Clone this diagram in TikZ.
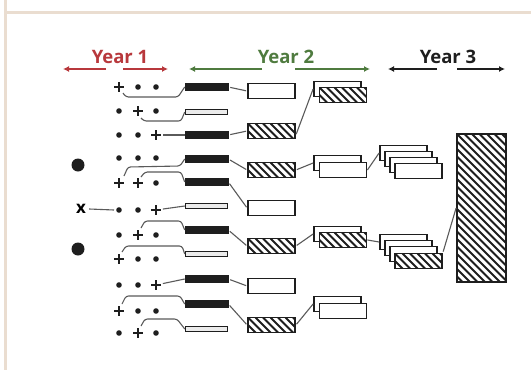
\documentclass[tikz,border=0pt]{standalone}
\usepackage{fontspec}
\newfontfamily\hdrfont{Open Sans}
\usetikzlibrary{arrows.meta,shapes.misc,calc}
\definecolor{yrred}{HTML}{B8383C}
\definecolor{yrgreen}{HTML}{4F7B3F}
\definecolor{ink}{HTML}{1E1E1E}
\definecolor{wirecol}{HTML}{5A5A5A}
\definecolor{framecol}{HTML}{EADDD0}
\begin{document}
\begin{tikzpicture}[x=1pt,y=-1pt,
  yeartext/.style={font=\hdrfont\bfseries\fontsize{18.5}{20}\selectfont, inner sep=0pt},
  yarrow/.style={line width=2pt, -{Latex[length=6pt,width=6pt]}},
  wire/.style={draw=wirecol, line width=1.1pt, rounded corners=2.5pt},
  sdot/.style={circle, fill=ink, inner sep=0pt, minimum size=5.6pt},
  splus/.style={cross out, draw=ink, line width=1.9pt, rotate=45, inner sep=0pt, minimum size=5pt},
  bigdot/.style={circle, fill=ink, inner sep=0pt, minimum size=13pt},
  bbar/.style={rectangle, draw=ink, fill=ink, line width=0.6pt, inner sep=0pt, minimum width=43pt, minimum height=7pt},
  wbar/.style={rectangle, draw=ink, fill=black!8, line width=1.5pt, inner sep=0pt, minimum width=42pt, minimum height=5pt},
  hatch/.style={path picture={
      \foreach \k in {-25,...,10}{
        \draw[line width=2pt, ink] ([xshift=\k*7.5pt]path picture bounding box.north west) -- ++(200pt,-200pt);
      }}},
  box/.style={rectangle, draw=ink, line width=1.8pt, fill=white, inner sep=0pt, minimum width=47pt, minimum height=15pt},
  hbox/.style={box, hatch}
]
\useasboundingbox (0,0) rectangle (531,370);
\fill[white] (0,0) rectangle (531,370);

% page frame
\draw[framecol, line width=3pt] (5.5,0) -- (5.5,370);
\draw[framecol, line width=2.5pt] (5.5,12.5) -- (531,12.5);

% year headings with their spans
\node[yeartext, text=yrred]   (y1) at (120,57) {Year 1};
\node[yeartext, text=yrgreen] (y2) at (286,57) {Year 2};
\node[yeartext, text=ink]     (y3) at (448,57) {Year 3};
\coordinate (y1a) at (106,69); \coordinate (y1b) at (63,69);
\coordinate (y1c) at (123,69); \coordinate (y1d) at (168,69);
\coordinate (y2a) at (262,69); \coordinate (y2b) at (189,69);
\coordinate (y2c) at (295,69); \coordinate (y2d) at (370,69);
\coordinate (y3a) at (437,69); \coordinate (y3b) at (388,69);
\coordinate (y3c) at (457,69); \coordinate (y3d) at (505,69);
\draw[yarrow, yrred] (y1a) -- (y1b);
\draw[yarrow, yrred] (y1c) -- (y1d);
\draw[yarrow, yrgreen] (y2a) -- (y2b);
\draw[yarrow, yrgreen] (y2c) -- (y2d);
\draw[yarrow, ink] (y3a) -- (y3b);
\draw[yarrow, ink] (y3c) -- (y3d);

% parents
\node[bigdot] (p1) at (78,165) {};
\node[bigdot] (p2) at (78,249) {};
\node[font=\hdrfont\bfseries\fontsize{17}{18}\selectfont, inner sep=0pt] (xm) at (81,208.5) {x};

% marker rows
\foreach \r/\y/\pa/\pb/\pc in {
  1/87/splus/sdot/sdot, 2/111/sdot/splus/sdot, 3/135/sdot/sdot/splus,
  4/158/sdot/sdot/sdot, 5/183/splus/splus/sdot, 6/210/sdot/sdot/splus,
  7/235/sdot/splus/sdot, 8/259/splus/sdot/sdot, 9/285/sdot/sdot/splus,
  10/311/splus/sdot/sdot, 11/333/sdot/splus/sdot}{
  \node[\pa] (r\r a) at (119,\y) {};
  \node[\pb] (r\r b) at (138,\y) {};
  \node[\pc] (r\r c) at (156,\y) {};
}

% year-1 bars
\foreach \r/\y/\t in {1/87/bbar, 2/112/wbar, 3/135/bbar, 4/159/bbar, 5/182/bbar,
  6/206/wbar, 7/230/bbar, 8/254/wbar, 9/279/bbar, 10/304/bbar, 11/329/wbar}{
  \node[\t] (bar\r) at (206.5,\y) {};
}

% markers to bars
\draw[wire] (xm.east) ++(3,0.5) coordinate (xs) (xs) -- ([xshift=-5pt]r6a.center);
\draw[wire] ([shift={(4,6)}]r1a.center) -- ++(3,4) -- (178,97) -- (bar1.west);
\draw[wire] ([shift={(3,7)}]r2b.center) -- ++(3,3) -- (181,121) -- (bar2.west);
\draw[wire, shorten <=7pt] (r3c.center) -- (bar3.west);
\draw[wire] ([shift={(5,-7)}]r5a.center) -- ++(4,-9) -- (180,166) -- (bar4.west);
\draw[wire] ([shift={(3,-6)}]r5b.center) -- ++(4,-5) -- (181,172) -- (bar5.west);
\draw[wire, shorten <=7pt] (r6c.center) -- (bar6.west);
\draw[wire] ([shift={(3,-7)}]r7b.center) -- ++(4,-7) -- (181,221) -- (bar7.west);
\draw[wire] ([shift={(3,-7)}]r8a.center) -- ++(4,-6) -- (182,246) -- (bar8.west);
\draw[wire, shorten <=7pt] (r9c.center) -- (bar9.west);
\draw[wire] ([shift={(3,-7)}]r10a.center) -- ++(4,-8) -- (180,296) -- (bar10.west);
\draw[wire] ([shift={(3,-7)}]r11b.center) -- ++(4,-7) -- (177,319) -- (bar11.west);

% year-2 first boxes
\node[box]  (A1) at (271.5,91)  {};
\node[hbox] (A2) at (271.5,131) {};
\node[hbox] (A3) at (271.5,170) {};
\node[box]  (A4) at (271.5,208) {};
\node[hbox] (A5) at (271.5,246) {};
\node[box]  (A6) at (271.5,286) {};
\node[hbox] (A7) at (271.5,325) {};

\draw[wire, shorten <=2pt, shorten >=1pt] (bar1.east) -- (A1.west);
\draw[wire, shorten <=2pt, shorten >=1pt] (bar3.east) -- (A2.west);
\draw[wire, shorten <=2pt, shorten >=1pt] (bar4.east) -- (A3.west);
\draw[wire, shorten <=2pt, shorten >=1pt] (bar5.east) -- (A4.west);
\draw[wire, shorten <=2pt, shorten >=1pt] (bar7.east) -- (A5.west);
\draw[wire, shorten <=2pt, shorten >=1pt] (bar9.east) -- (A6.west);
\draw[wire, shorten <=2pt, shorten >=1pt] (bar10.east) -- (A7.west);

% year-2 pairs
\node[box]  (B1b) at (337.5,89)  {};
\node[hbox] (B1f) at (343,95)    {};
\node[box]  (B2b) at (337.5,163) {};
\node[box]  (B2f) at (343,170)   {};
\node[box]  (B3b) at (337.5,234) {};
\node[hbox] (B3f) at (343,240)   {};
\node[box]  (B4b) at (337.5,304) {};
\node[box]  (B4f) at (343,311)   {};

\draw[wire, shorten <=1pt] ([yshift=-4pt]A2.east) -- (B1b.west);
\draw[wire, shorten <=1pt] (A3.east) -- (B2b.west);
\draw[wire, shorten <=1pt] (A5.east) -- (B3b.west);
\draw[wire, shorten <=1pt] (A7.east) -- (B4b.west);

% year-3 stacks
\node[box] (C1a) at (403.5,153) {};
\node[box] (C1b) at (408.5,159) {};
\node[box] (C1c) at (413.5,165) {};
\node[box] (C1d) at (418.5,171) {};
\node[box]  (C2a) at (403.5,242) {};
\node[box]  (C2b) at (408.5,248) {};
\node[box]  (C2c) at (413.5,254) {};
\node[hbox] (C2d) at (418.5,261) {};

\draw[wire] (B2f.east) -- (C1a.west);
\draw[wire] (B3f.east) -- (C2a.west);

% final block
\node[box, hatch, minimum width=49pt, minimum height=148pt] (D) at (481.5,208) {};
\draw[wire, shorten <=1pt] (C2d.north east) -- (D.west);
\end{tikzpicture}
\end{document}
